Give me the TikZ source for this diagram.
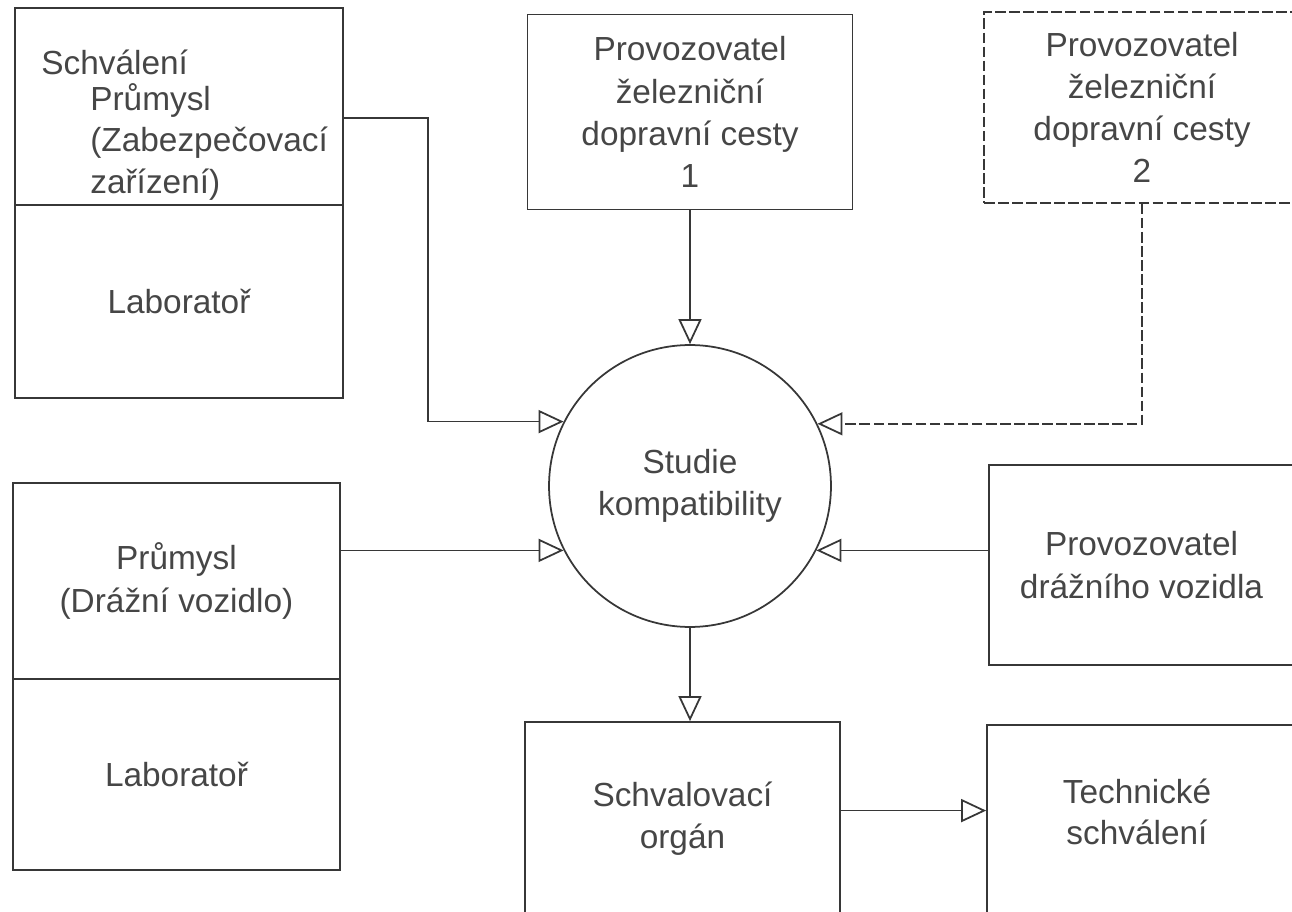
\documentclass[tikz,border=0pt]{standalone}
\usepackage{fontspec}
\setmainfont{Liberation Sans}
\usepackage{tikz}
\usetikzlibrary{arrows.meta,positioning,calc}
\definecolor{dcline}{RGB}{55,55,55}
\definecolor{dctext}{RGB}{70,70,70}
\tikzstyle{flow} = [line width=1pt,-{Triangle[open,length=0.5cm,width=0.46cm]},color=dcline]
\tikzstyle{orgbox} = [rectangle, draw=dcline, line width=1pt, text=dctext, align=center, font=\fontsize{19}{24}\selectfont]
\tikzstyle{plaintext} = [inner sep=0pt, text=dctext, align=left, font=\fontsize{19}{23.5}\selectfont]
\tikzstyle{studycircle} = [circle, draw=dcline, line width=1pt, minimum size=5.64cm, text=dctext, align=center, font=\fontsize{19}{24}\selectfont]

\begin{document}
\begin{tikzpicture}[x=0.02cm, y=-0.02cm]
\useasboundingbox (0,0) rectangle (1292,912);
\clip (0,0) rectangle (1292,912);

% Industry (signalling) + laboratory
\node[orgbox, minimum width=6.56cm, minimum height=3.94cm] (indsig) at (179,106.5) {};
\node[orgbox, minimum width=6.56cm, minimum height=3.86cm] (labsig) at (179,301.5) {Laboratoř};
\node[plaintext, anchor=west] (schvtxt) at (41,62) {Schválení};
\node[plaintext, anchor=west] (sigtxt) at (90,142) {Průmysl\\(Zabezpečovací\\zařízení)};

% Industry (vehicle) + laboratory
\node[orgbox, minimum width=6.54cm, minimum height=3.92cm] (indveh) at (176.5,581) {Průmysl\\(Drážní vozidlo)};
\node[orgbox, minimum width=6.54cm, minimum height=3.82cm] (labveh) at (176.5,774.5) {Laboratoř};

% Infrastructure managers
\node[orgbox, minimum width=6.5cm, minimum height=3.9cm] (prov1) at (690,112) {Provozovatel\\železniční\\dopravní cesty\\1};
\node[orgbox, dash pattern=on 6pt off 2pt, minimum width=6.32cm, minimum height=3.82cm] (prov2) at (1142,107.5) {Provozovatel\\železniční\\dopravní cesty\\2};

% Study
\node[studycircle] (stud) at (690,486) {Studie\\kompatibility};

% Vehicle operator
\node[orgbox, minimum width=6.1cm, minimum height=4cm] (rvop) at (1141.5,565) {Provozovatel\\drážního vozidla};

% Approval
\node[orgbox, minimum width=6.3cm, minimum height=3.86cm] (schval) at (682.5,818.5) {Schvalovací\\orgán};
\node[orgbox, minimum width=6.14cm, minimum height=4.7cm] (tech) at (1140.5,842.5) {};
\node[plaintext, align=center] (techtxt) at (1137,812) {Technické\\schválení};

% Arrows
\coordinate (sigout) at ([yshift=-6.5pt]indsig.east);
\coordinate (sigbend) at (428,300);
\draw[flow] (sigout) -| (sigbend) |- (stud.153.5);
\draw[flow] (stud.207 -| indveh.east) -- (stud.207);
\draw[flow] (prov1.south) -- (stud.north);
\draw[flow, dash pattern=on 6pt off 2pt] (prov2.south) |- (stud.26.5);
\draw[flow] (stud.-27 -| rvop.west) -- (stud.-27);
\draw[flow] (stud.south) -- (stud.south |- schval.north);
\coordinate (schvout) at ([yshift=4.5pt]schval.east);
\draw[flow] (schvout) -- (schvout -| tech.west);
\end{tikzpicture}
\end{document}
